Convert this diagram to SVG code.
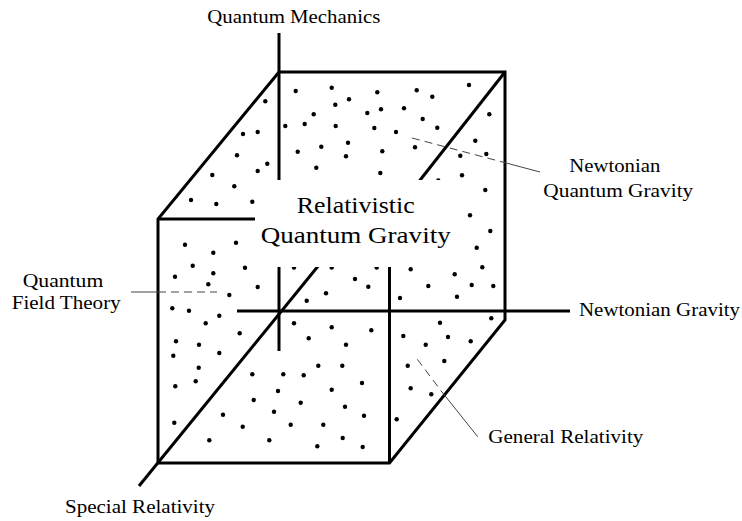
<svg xmlns="http://www.w3.org/2000/svg" width="742" height="521" viewBox="0 0 742 521">
<style>
.e{stroke:#000;stroke-width:3;fill:none;stroke-linejoin:miter;stroke-linecap:butt}
.d{fill:#000}
.ld{stroke:#444;stroke-width:1;fill:none;stroke-dasharray:8 5}
.ls{stroke:#444;stroke-width:1;fill:none}
.t{font-family:"Liberation Serif","Times New Roman",serif;font-size:19px;fill:#000}
.tb{font-family:"Liberation Serif","Times New Roman",serif;font-size:24px;fill:#000}
</style>
<rect x="0" y="0" width="742" height="521" fill="#fff"/>
<g id="dots" class="d">
<circle cx="295.7" cy="91" r="2.2"/><circle cx="331.7" cy="87.7" r="2.2"/><circle cx="377.3" cy="92.3" r="2.2"/><circle cx="416.7" cy="90.3" r="2.2"/><circle cx="432.3" cy="96.7" r="2.2"/><circle cx="469" cy="85" r="2.2"/><circle cx="265.3" cy="101.3" r="2.2"/><circle cx="349" cy="99.3" r="2.2"/><circle cx="335.3" cy="104.7" r="2.2"/><circle cx="313.7" cy="114.3" r="2.2"/><circle cx="367.3" cy="113" r="2.2"/><circle cx="381" cy="109.3" r="2.2"/><circle cx="404" cy="108.3" r="2.2"/><circle cx="489.3" cy="114.3" r="2.2"/><circle cx="285.3" cy="126" r="2.2"/><circle cx="304.7" cy="124" r="2.2"/><circle cx="335.7" cy="126" r="2.2"/><circle cx="374.3" cy="128" r="2.2"/><circle cx="396" cy="132" r="2.2"/><circle cx="422.7" cy="119" r="2.2"/><circle cx="437.3" cy="127.7" r="2.2"/><circle cx="243" cy="134" r="2.2"/><circle cx="257.7" cy="132" r="2.2"/><circle cx="475.3" cy="140.7" r="2.2"/><circle cx="321.3" cy="146.7" r="2.2"/><circle cx="348" cy="142.7" r="2.2"/><circle cx="297.7" cy="151.7" r="2.2"/><circle cx="346" cy="156.3" r="2.2"/><circle cx="382.3" cy="151.3" r="2.2"/><circle cx="415" cy="147.3" r="2.2"/><circle cx="460.3" cy="155.7" r="2.2"/><circle cx="486.3" cy="154" r="2.2"/><circle cx="237" cy="155.3" r="2.2"/><circle cx="267.3" cy="163.7" r="2.2"/><circle cx="257.7" cy="171" r="2.2"/><circle cx="212.3" cy="175" r="2.2"/><circle cx="316.3" cy="167.7" r="2.2"/><circle cx="380.3" cy="173" r="2.2"/><circle cx="438.3" cy="180.5" r="2.2"/><circle cx="462" cy="175.3" r="2.2"/><circle cx="234.3" cy="186.3" r="2.2"/><circle cx="485.3" cy="190" r="2.2"/><circle cx="191" cy="200" r="2.2"/><circle cx="216.3" cy="204" r="2.2"/><circle cx="252.3" cy="201.7" r="2.2"/><circle cx="470" cy="215.3" r="2.2"/>
<circle cx="185" cy="244.7" r="2.2"/><circle cx="236" cy="242.7" r="2.2"/><circle cx="213.3" cy="252.7" r="2.2"/><circle cx="192.7" cy="265.7" r="2.2"/><circle cx="245" cy="267.7" r="2.2"/><circle cx="294" cy="267.5" r="2.2"/><circle cx="175" cy="276.7" r="2.2"/><circle cx="213.3" cy="273.3" r="2.2"/><circle cx="208.3" cy="284.3" r="2.2"/><circle cx="257.7" cy="287" r="2.2"/><circle cx="229.3" cy="295" r="2.2"/><circle cx="172.3" cy="308.3" r="2.2"/><circle cx="189" cy="310.7" r="2.2"/><circle cx="219.3" cy="315.7" r="2.2"/><circle cx="205.7" cy="323.3" r="2.2"/><circle cx="294" cy="323.3" r="2.2"/><circle cx="239.7" cy="333.3" r="2.2"/><circle cx="176" cy="341.3" r="2.2"/><circle cx="199" cy="344.7" r="2.2"/><circle cx="173.3" cy="355.7" r="2.2"/><circle cx="219.3" cy="353" r="2.2"/><circle cx="198.7" cy="367.7" r="2.2"/><circle cx="252.3" cy="374.3" r="2.2"/><circle cx="283.3" cy="374.3" r="2.2"/>
<circle cx="331.7" cy="267.5" r="2.2"/><circle cx="376.7" cy="267.5" r="2.2"/><circle cx="355" cy="279" r="2.2"/><circle cx="368.3" cy="286.7" r="2.2"/><circle cx="326" cy="293.3" r="2.2"/><circle cx="306.7" cy="300.7" r="2.2"/>
<circle cx="308.7" cy="338.3" r="2.2"/><circle cx="318.3" cy="365.7" r="2.2"/><circle cx="175.3" cy="386.3" r="2.2"/><circle cx="195.7" cy="381.3" r="2.2"/><circle cx="303.7" cy="375.3" r="2.2"/><circle cx="278" cy="391" r="2.2"/><circle cx="331.7" cy="389.7" r="2.2"/><circle cx="253.7" cy="400" r="2.2"/><circle cx="300.7" cy="402.7" r="2.2"/><circle cx="223" cy="414.7" r="2.2"/><circle cx="274" cy="411.7" r="2.2"/><circle cx="174.3" cy="422.7" r="2.2"/><circle cx="242.7" cy="426.7" r="2.2"/><circle cx="290.7" cy="424.7" r="2.2"/><circle cx="323.3" cy="424.7" r="2.2"/><circle cx="209.3" cy="440.3" r="2.2"/><circle cx="269.3" cy="440.3" r="2.2"/><circle cx="317.3" cy="446.3" r="2.2"/>
<circle cx="331.7" cy="327.3" r="2.2"/><circle cx="371.3" cy="330.3" r="2.2"/><circle cx="346" cy="344.7" r="2.2"/><circle cx="342.3" cy="365.7" r="2.2"/><circle cx="362" cy="383" r="2.2"/><circle cx="345" cy="406.7" r="2.2"/><circle cx="364" cy="415.7" r="2.2"/><circle cx="342.7" cy="438" r="2.2"/><circle cx="362.7" cy="447" r="2.2"/><circle cx="440" cy="322.7" r="2.2"/><circle cx="491.3" cy="318.3" r="2.2"/><circle cx="403.3" cy="336" r="2.2"/><circle cx="448" cy="337" r="2.2"/><circle cx="425.7" cy="344.7" r="2.2"/><circle cx="470.7" cy="341.3" r="2.2"/><circle cx="407.7" cy="365.7" r="2.2"/><circle cx="444.3" cy="361" r="2.2"/><circle cx="410.7" cy="388.3" r="2.2"/><circle cx="431.3" cy="394.3" r="2.2"/><circle cx="396.7" cy="419.3" r="2.2"/>
<circle cx="490.3" cy="231" r="2.2"/><circle cx="476.7" cy="247.7" r="2.2"/><circle cx="482.3" cy="267.3" r="2.2"/><circle cx="410.7" cy="269.3" r="2.2"/><circle cx="454.7" cy="274.3" r="2.2"/><circle cx="428.3" cy="286" r="2.2"/><circle cx="471.7" cy="285" r="2.2"/><circle cx="493.3" cy="286" r="2.2"/><circle cx="400" cy="298" r="2.2"/><circle cx="457" cy="296.7" r="2.2"/>
</g>
<g id="cube" class="e">
<polyline points="158,463 158,219 279,72 505,72 505,320 389.5,463 158,463"/>
<line x1="158" y1="219" x2="389.5" y2="219"/>
<line x1="389.5" y1="219" x2="389.5" y2="463"/>
<line x1="505" y1="72" x2="389.5" y2="219"/>
</g>
<g id="axes" class="e">
<line x1="279" y1="33" x2="279" y2="351"/>
<line x1="237" y1="311" x2="570" y2="311"/>
<line x1="139" y1="486" x2="319" y2="265"/>
</g>
<g id="connectors">
<line class="ls" x1="131" y1="292" x2="158" y2="292"/>
<line class="ld" x1="158" y1="292" x2="217" y2="292"/>
<line class="ld" x1="412" y1="138" x2="505" y2="162.7"/>
<line class="ls" x1="505" y1="162.7" x2="540" y2="172"/>
<line class="ld" x1="417.3" y1="359.3" x2="442" y2="392"/>
<line class="ls" x1="442" y1="392" x2="477.7" y2="436.7"/>
</g>
<g id="rqg">
<rect x="255" y="180" width="205" height="87" fill="#fff"/>
<text class="tb" x="296.7" y="213.3" textLength="118" lengthAdjust="spacingAndGlyphs">Relativistic</text>
<text class="tb" x="260.7" y="242.7" textLength="190" lengthAdjust="spacingAndGlyphs">Quantum Gravity</text>
</g>
<g id="qm"><text class="t" x="207.3" y="23.3" textLength="173" lengthAdjust="spacingAndGlyphs">Quantum Mechanics</text></g>
<g id="nqg">
<text class="t" x="569.3" y="171.7" textLength="91" lengthAdjust="spacingAndGlyphs">Newtonian</text>
<text class="t" x="543.3" y="196.7" textLength="150" lengthAdjust="spacingAndGlyphs">Quantum Gravity</text>
</g>
<g id="qft">
<text class="t" x="22.7" y="286.7" textLength="80.6" lengthAdjust="spacingAndGlyphs">Quantum</text>
<text class="t" x="11.7" y="309.3" textLength="109" lengthAdjust="spacingAndGlyphs">Field Theory</text>
</g>
<g id="ng"><text class="t" x="579" y="316" textLength="161" lengthAdjust="spacingAndGlyphs">Newtonian Gravity</text></g>
<g id="gr"><text class="t" x="488.3" y="442.7" textLength="155" lengthAdjust="spacingAndGlyphs">General Relativity</text></g>
<g id="sr"><text class="t" x="65" y="513.3" textLength="150" lengthAdjust="spacingAndGlyphs">Special Relativity</text></g>
</svg>
